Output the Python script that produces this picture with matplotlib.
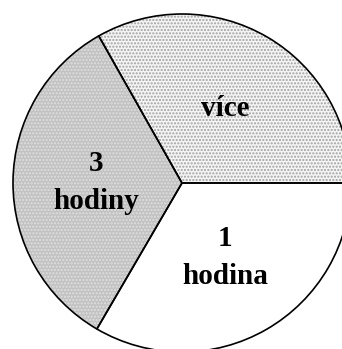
import matplotlib.pyplot as plt

# share of each group (three roughly equal parts)
labels = ['více', '3\nhodiny', '1\nhodina']
values = [33.2, 33.4, 33.4]
face_colors = ['#f4f4f4', '#c2c2c2', '#ffffff']
hatch_colors = ['#a0a0a0', '#e0e0e0', '#ffffff']
hatches = ['.....', '.....', '']

W, H = 342, 349
fig = plt.figure(figsize=(W / 100, H / 100), dpi=100)
ax = fig.add_axes([0, 0, 1, 1])

center = (182, H - 183)
radius = 169

# filled, dotted wedges
wedges, _ = ax.pie(values, colors=face_colors, startangle=0, counterclock=True,
                   center=center, radius=radius, frame=True,
                   wedgeprops=dict(linewidth=0))
for w, hc, h in zip(wedges, hatch_colors, hatches):
    w.set_hatch(h)
    w.set_edgecolor(hc)
    w.set_linewidth(0)

# black outlines on top
outline, texts = ax.pie(values, labels=labels, colors=['none'] * 3,
                        startangle=0, counterclock=True,
                        center=center, radius=radius, frame=True,
                        labeldistance=0.51,
                        wedgeprops=dict(edgecolor='black', linewidth=1.2, fill=False),
                        textprops=dict(fontsize=21, fontweight='bold',
                                       family='Liberation Serif'))
for t in texts:
    t.set_ha('center')
    t.set_va('center')
    t.set_linespacing(1.5)

ax.set_xlim(0, W)
ax.set_ylim(0, H)
ax.set_aspect('equal')
ax.axis('off')

fig.savefig('out.png', dpi=100)
